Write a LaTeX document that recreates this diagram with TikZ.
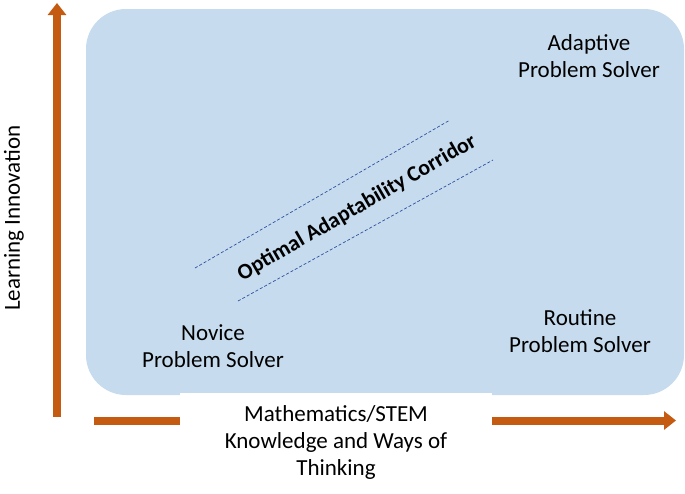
\documentclass[tikz,border=0pt]{standalone}
\usepackage{fontspec}
\setmainfont{Carlito}
\usetikzlibrary{arrows.meta}
\definecolor{bluefill}{HTML}{C6DCEE}
\definecolor{orng}{HTML}{C55A11}
\definecolor{dashblue}{HTML}{2F4F9F}
\tikzset{lbl/.style={font=\fontsize{23}{27}\selectfont, align=center, text=black},
axis/.style={orng, line width=8pt, -{Triangle[length=12pt,width=18pt]}},
dl/.style={dashblue, dashed, dash pattern=on 3pt off 2pt, line width=0.7pt}}
\begin{document}
\begin{tikzpicture}[x=1pt,y=-1pt]
\useasboundingbox (0,0) rectangle (685,493);
\node[fill=bluefill, rounded corners=40pt, minimum width=598pt, minimum height=386pt, inner sep=0] (bg) at (385,202) {};
\coordinate (vb) at (57,417);
\coordinate (vt) at (57,3);
\draw[axis] (vb) -- (vt);
\coordinate (hl) at (94,420.5);
\coordinate (hr) at (676,420.5);
\draw[axis] (hl) -- (hr);
\node[fill=white, minimum width=312pt, minimum height=78pt, inner sep=0] (xbox) at (336,432) {};
\node[lbl] (xl) at (336,442) {Mathematics/STEM\\Knowledge and Ways of\\Thinking};
\node[lbl, rotate=90] (yl) at (14,218) {Learning Innovation};
\node[lbl] (ad) at (589,56) {Adaptive\\Problem Solver};
\node[lbl] (nv) at (213,346) {Novice\\Problem Solver};
\node[lbl] (rt) at (580,331) {Routine\\Problem Solver};
\coordinate (a1) at (195,268); \coordinate (a2) at (450,120);
\coordinate (b1) at (238,301); \coordinate (b2) at (493,160);
\draw[dl] (a1) -- (a2);
\draw[dl] (b1) -- (b2);
\node[lbl, font=\fontsize{22}{25}\selectfont\bfseries, rotate=30, inner sep=0] (oc) at (357,208) {Optimal Adaptability Corridor};
\end{tikzpicture}
\end{document}
